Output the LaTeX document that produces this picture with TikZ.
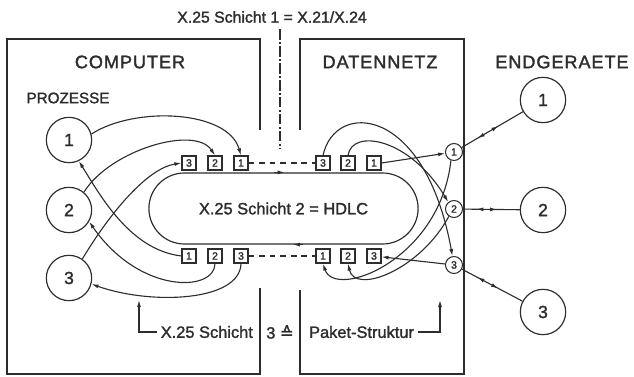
\documentclass[tikz,border=0pt]{standalone}
\usepackage{fontspec}
\setmainfont{Liberation Sans}[RawFeature={embolden=1.6}]
\newfontfamily\symfont{DejaVu Sans}[RawFeature={embolden=1.6}]
\newfontfamily\widefont{Liberation Sans}[RawFeature={embolden=1.6},LetterSpace=5]
\usetikzlibrary{arrows.meta,shapes.misc,decorations.markings}
\definecolor{Ink}{RGB}{45,45,45}

\begin{document}
\begin{tikzpicture}[x=0.03cm,y=-0.03cm,
  every node/.style={text=Ink},
  wall/.style={draw=Ink,line width=1.5pt},
  conn/.style={draw=Ink,line width=0.95pt},
  tip/.style={conn,-{Latex[length=6pt,width=3.4pt]}},
  proc/.style={circle,draw=Ink,line width=1pt,minimum size=1.36cm,inner sep=0pt,font=\fontsize{15}{15}\selectfont},
  port/.style={circle,draw=Ink,line width=0.9pt,minimum size=0.51cm,inner sep=0pt,font=\fontsize{9}{9}\selectfont},
  pkt/.style={rectangle,draw=Ink,line width=0.9pt,minimum size=0.42cm,inner sep=0pt,font=\fontsize{9}{9}\selectfont},
  head/.style={font=\widefont\fontsize{15.5}{18}\selectfont},
  lbl/.style={font=\fontsize{14}{16}\selectfont},
  bidir/.style={conn,postaction={decorate},decoration={markings,
    mark=at position 0.36 with {\arrow{Latex[length=6pt,width=3.4pt,reversed]}},
    mark=at position 0.6 with {\arrow{Latex[length=6pt,width=3.4pt]}}}}]
  \useasboundingbox (0,0) rectangle (634,377);

  % walls of computer and network
  \draw[wall] (260,130) |- (7,39) |- (260,374) -- (260,288);
  \draw[wall] (300,130) |- (464,39) |- (300,374) -- (300,290);
  \draw[conn,dash pattern=on 9pt off 2pt on 1.5pt off 2pt] (280,29) -- (280,148);

  % headings
  \node[font=\fontsize{13.5}{15}\selectfont] (title) at (272,17) {X.25 Schicht 1 = X.21/X.24};
  \node[head] (comp) at (130,62) {COMPUTER};
  \node[head] (dnet) at (380,62) {DATENNETZ};
  \node[head] (endg) at (562,62) {ENDGERAETE};
  \node[font=\fontsize{13}{15}\selectfont] (proz) at (68,98) {PROZESSE};

  % HDLC link
  \node[rounded rectangle,draw=Ink,line width=1pt,minimum width=8.31cm,
        minimum height=2.13cm,lbl] (track) at (283.5,208.5) {X.25 Schicht 2 = HDLC};
  \draw[tip] ([xshift=-8pt]track.north) -- ([xshift=1pt]track.north);
  \draw[tip] ([xshift=17pt]track.south) -- ([xshift=8pt]track.south);

  % processes, ports, end devices
  \foreach \n/\y in {1/140,2/210,3/278}
    \node[proc] (pc\n) at (69,\y) {\n};
  \foreach \n/\y in {1/100,2/210,3/312}
    \node[proc] (eg\n) at (543,\y) {\n};
  \foreach \n/\y in {1/152,2/209,3/265}
    \node[port] (dc\n) at (454,\y) {\n};

  % packet channels
  \foreach \n/\x in {3/189,2/215,1/241}
    \node[pkt] (ct\n) at (\x,163) {\n};
  \foreach \n/\x in {1/189,2/215,3/241}
    \node[pkt] (cb\n) at (\x,256) {\n};
  \foreach \n/\x in {3/323,2/348,1/374}
    \node[pkt] (nt\n) at (\x,163) {\n};
  \foreach \n/\x in {1/323,2/348,3/374}
    \node[pkt] (nb\n) at (\x,256) {\n};
  \draw[conn,dash pattern=on 5pt off 4pt] (ct1) -- (nt3);
  \draw[conn,dash pattern=on 5pt off 4pt] (cb3) -- (nb1);

  % computer side
  \draw[tip] (pc1.15) .. controls (135,106) and (228,110) .. (ct1.north);
  \draw[tip] (pc2.50) .. controls (110,150) and (195,125) .. (ct2.north);
  \draw[tip] (pc3.55) .. controls (115,205) and (150,168) .. (ct3.west);
  \draw[tip] (cb1.west) .. controls (130,250) and (100,195) .. (pc1.-65);
  \draw[tip] (cb2.south) .. controls (215,292) and (140,295) .. (pc2.-30);
  \draw[tip] (cb3.south) .. controls (240,302) and (150,305) .. (pc3.-15);

  % network side
  \draw[tip] (nt1.east) -- (dc1);
  \draw[tip] (nt2.north) .. controls (352,128) and (410,138) .. (dc2.130);
  \draw[tip] (nt3.north) .. controls (335,100) and (425,105) .. (dc3.100);
  \draw[tip] (dc1.250) .. controls (440,260) and (335,300) .. (nb1.south);
  \draw[tip] (dc2.235) .. controls (420,270) and (355,295) .. (nb2.south);
  \draw[tip] (dc3) -- (nb3);
  \draw[bidir] (dc1) -- (eg1);
  \draw[bidir] (dc2) -- (eg2);
  \draw[bidir] (dc3) -- (eg3);

  % layer 3 note
  \node[lbl,anchor=east] (l3a) at (257,332) {X.25 Schicht};
  \node[lbl] (l3b) at (280,332) {3 {\symfont ≙}};
  \node[lbl,anchor=west] (l3c) at (305,332) {Paket-Struktur};
  \coordinate (upL) at (139,300);
  \coordinate (upR) at (440,300);
  \draw[tip] (l3a.west) -| (upL);
  \draw[tip] (l3c.east) -| (upR);
\end{tikzpicture}
\end{document}
